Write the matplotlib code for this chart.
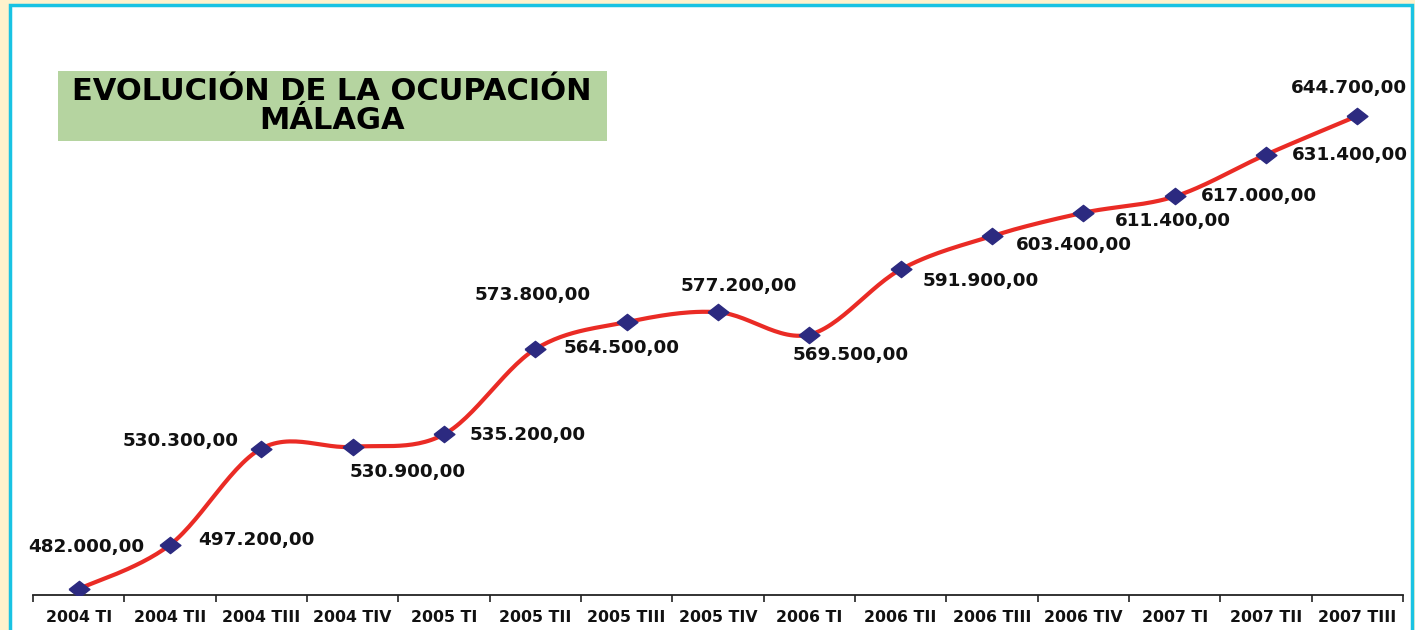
import numpy as np
import matplotlib.pyplot as plt
from matplotlib.patches import Rectangle

# ocupados por trimestre (miles)
quarters = ["2004 TI", "2004 TII", "2004 TIII", "2004 TIV",
            "2005 TI", "2005 TII", "2005 TIII", "2005 TIV",
            "2006 TI", "2006 TII", "2006 TIII", "2006 TIV",
            "2007 TI", "2007 TII", "2007 TIII"]
ocupados = [482.0, 497.2, 530.3, 530.9, 535.2, 564.5, 573.8, 577.2,
            569.5, 591.9, 603.4, 611.4, 617.0, 631.4, 644.7]
labels = ["482.000,00", "497.200,00", "530.300,00", "530.900,00",
          "535.200,00", "564.500,00", "573.800,00", "577.200,00",
          "569.500,00", "591.900,00", "603.400,00", "611.400,00",
          "617.000,00", "631.400,00", "644.700,00"]

# where each label sits relative to its point (pixels)
label_offsets = [(8, 42), (86, 5), (-81, 8), (55, -25), (84, -1),
                 (86, 1), (-94, 27), (21, 26), (41, -20), (80, -12),
                 (82, -9), (90, -8), (84, 0), (84, 0), (-8, 28)]


def smooth_line(x, y, n=30):
    # excel-like smoothed line (catmull-rom as bezier)
    px = np.r_[x[0], x, x[-1]]
    py = np.r_[y[0], y, y[-1]]
    xs, ys = [], []
    t = np.linspace(0, 1, n)
    for i in range(1, len(px) - 2):
        p0 = np.array([px[i], py[i]])
        p3 = np.array([px[i + 1], py[i + 1]])
        p1 = p0 + (p3 - np.array([px[i - 1], py[i - 1]])) / 6
        p2 = p3 - (np.array([px[i + 2], py[i + 2]]) - p0) / 6
        pts = ((1 - t) ** 3)[:, None] * p0 + (3 * (1 - t) ** 2 * t)[:, None] * p1 \
            + (3 * (1 - t) * t ** 2)[:, None] * p2 + (t ** 3)[:, None] * p3
        xs.extend(pts[:, 0])
        ys.extend(pts[:, 1])
    return xs, ys


W, H = 1415, 630
fig = plt.figure(figsize=(W / 100, H / 100), dpi=100, facecolor="#fef2cc")

# cyan frame
fig.patches.append(Rectangle((10 / W, -0.02), 1402 / W, (H - 5) / H + 0.02,
                             transform=fig.transFigure, facecolor="white",
                             edgecolor="#19c3e3", linewidth=2.5, zorder=-2))
# title box
fig.patches.append(Rectangle((58 / W, 1 - 141 / H), 549 / W, 70 / H,
                             transform=fig.transFigure, facecolor="#b5d4a0",
                             edgecolor="none", zorder=-1))

ax = fig.add_axes([33 / W, 35 / H, 1370 / W, 575 / H])
ax.set_facecolor("none")
ax.set_zorder(1)

x = np.arange(len(quarters))
sx, sy = smooth_line(x, np.array(ocupados))
ax.plot(sx, sy, color="#ea2b25", linewidth=3, zorder=2, solid_capstyle="round")

diamond = [(-1, 0), (0, 0.78), (1, 0), (0, -0.78), (-1, 0)]
ax.plot(x, ocupados, linestyle="none", marker=diamond, markersize=15,
        color="#2c2a80", zorder=3)

for xi, yi, lab, off in zip(x, ocupados, labels, label_offsets):
    ax.annotate(lab, (xi, yi), xytext=off, textcoords="offset pixels",
                ha="center", va="center", fontsize=13.2, fontweight="bold",
                color="#111111")

ax.set_xlim(-0.5, len(quarters) - 0.5)
ax.set_ylim(479.94, 677.7)
ax.set_yticks([])
for s in ["top", "left", "right"]:
    ax.spines[s].set_visible(False)
ax.spines["bottom"].set_linewidth(1.3)
ax.spines["bottom"].set_color("#222222")

ax.set_xticks(x)
ax.set_xticklabels(quarters, fontsize=11.3, fontweight="bold", color="#111111")
ax.tick_params(axis="x", which="major", length=0, pad=11)
ax.set_xticks(np.arange(-0.5, len(quarters)), minor=True)
ax.tick_params(axis="x", which="minor", length=5, width=1.2, color="#222222")

fig.text(332 / W, 1 - 100 / H, "EVOLUCIÓN DE LA OCUPACIÓN",
         ha="center", va="baseline", fontsize=22, fontweight="bold", color="black")
fig.text(332 / W, 1 - 129 / H, "MÁLAGA",
         ha="center", va="baseline", fontsize=22, fontweight="bold", color="black")

fig.savefig("out.png", dpi=100, facecolor=fig.get_facecolor())
